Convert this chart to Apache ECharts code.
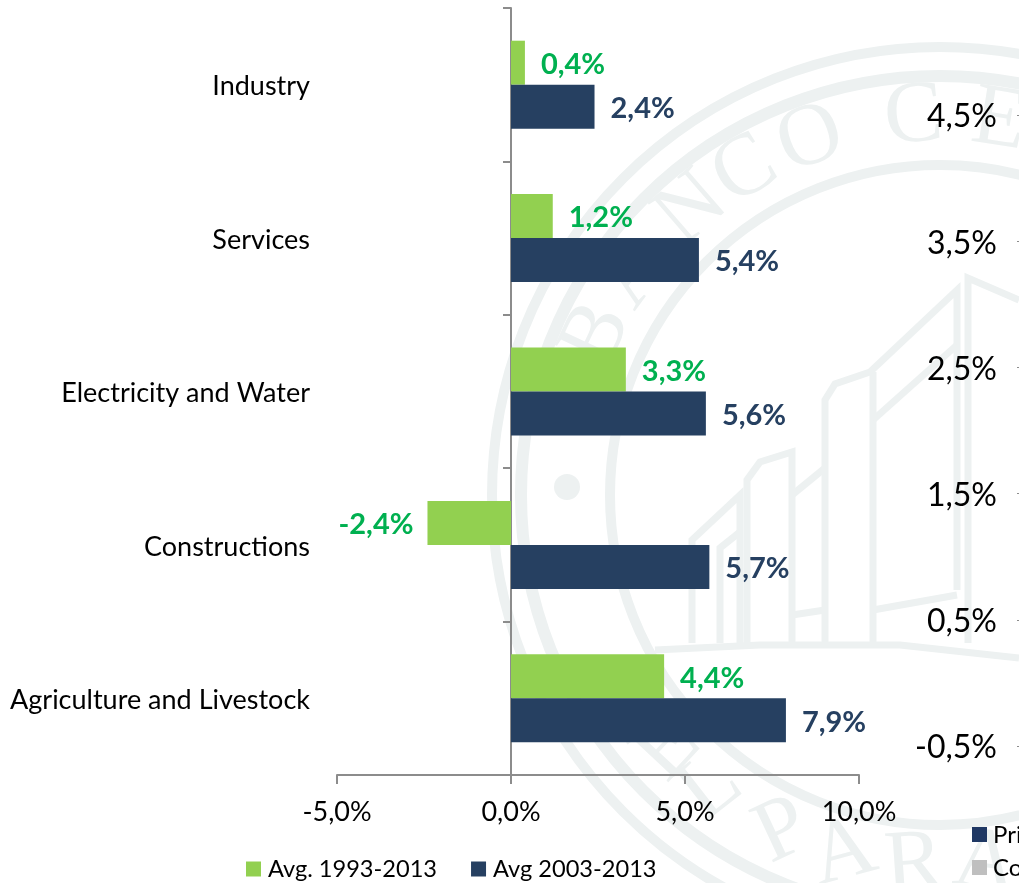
<!DOCTYPE html>
<html>
<head>
<meta charset="utf-8">
<style>
  html, body { margin: 0; padding: 0; background: #fff; overflow: hidden; }
  #main { width: 1019px; height: 883px; }
</style>
<script src="https://cdn.jsdelivr.net/npm/echarts@6/dist/echarts.min.js"></script>
</head>
<body>
<div id="main"></div>
<script>
const categories = ["Industry", "Services", "Electricity and Water", "Constructions", "Agriculture and Livestock"];
const avg1993 = [0.4, 1.2, 3.3, -2.4, 4.4];
const avg2003 = [2.4, 5.4, 5.6, 5.7, 7.9];
const rightTicks = ["-0,5%", "0,5%", "1,5%", "2,5%", "3,5%", "4,5%"];

const FONT = "Lato";
const MARK = "#edf1f1";
const pct = v => v.toFixed(1).replace(".", ",") + "%";

// seal behind the chart
const cx = 940, cy = 495;
const seal = [];
[[448, 10], [419, 12], [330, 10]].forEach(r => {
  seal.push({ type: "circle", z: -10, shape: { cx, cy, r: r[0] }, style: { fill: null, stroke: MARK, lineWidth: r[1] } });
});
seal.push({ type: "circle", z: -10, shape: { cx: 567, cy: 487, r: 13 }, style: { fill: MARK } });

// letters around the ring, angle in degrees from straight up
const topLetters = [["B", -65], ["A", -54], ["N", -41], ["C", -31], ["O", -20], ["C", -4], ["E", 9]];
const bottomLetters = [["E", 47], ["L", 38], ["P", 25], ["A", 15], ["R", 4], ["A", -7]];
topLetters.forEach(l => {
  const a = l[1] * Math.PI / 180;
  seal.push({ type: "text", z: -10, x: cx + 378 * Math.sin(a), y: cy - 378 * Math.cos(a), rotation: -a,
    style: { text: l[0], font: "88px 'Liberation Serif'", fill: MARK, align: "center", verticalAlign: "middle" } });
});
bottomLetters.forEach(l => {
  const a = l[1] * Math.PI / 180;
  seal.push({ type: "text", z: -10, x: cx - 372 * Math.sin(a), y: cy + 372 * Math.cos(a), rotation: a,
    style: { text: l[0], font: "88px 'Liberation Serif'", fill: MARK, align: "center", verticalAlign: "middle" } });
});

// building outlines
const building = [
  [[692, 643], [692, 540], [740, 495], [740, 643]],
  [[720, 643], [720, 548], [740, 532]],
  [[747, 643], [747, 480], [760, 462], [792, 452], [792, 643]],
  [[792, 495], [825, 468]],
  [[825, 643], [825, 400], [835, 384], [870, 372], [957, 290], [957, 590]],
  [[873, 643], [873, 372]],
  [[873, 610], [957, 595]],
  [[873, 420], [957, 345]],
  [[792, 615], [825, 610]],
  [[968, 643], [968, 278], [1019, 300]],
  [[655, 650], [760, 645], [900, 645], [1019, 658]]
];
building.forEach(p => {
  seal.push({ type: "polyline", z: -10, shape: { points: p }, style: { fill: null, stroke: MARK, lineWidth: 7 } });
});

// the other chart's legend, cut off by the page edge
const sideLegend = [
  { type: "rect", shape: { x: 972, y: 827, width: 15, height: 15 }, style: { fill: "#1f3864" } },
  { type: "rect", shape: { x: 972, y: 860, width: 15, height: 15 }, style: { fill: "#bfbfbf" } },
  { type: "text", x: 993, y: 835, style: { text: "Pri", font: "24px " + FONT, fill: "#000", verticalAlign: "middle" } },
  { type: "text", x: 993, y: 868, style: { text: "Co", font: "24px " + FONT, fill: "#000", verticalAlign: "middle" } }
];

const barData = (values, color) => values.map(v => ({
  value: v,
  label: { position: v < 0 ? "left" : "right", color: color }
}));

const myChart = echarts.init(document.getElementById("main"));
myChart.setOption({
  animation: false,
  backgroundColor: "#fff",
  textStyle: { fontFamily: FONT },
  graphic: { elements: seal.concat(sideLegend) },
  legend: {
    left: 241, top: 852, itemWidth: 15, itemHeight: 15, itemGap: 34,
    icon: "rect",
    textStyle: { fontFamily: FONT, fontSize: 23.6, color: "#000", padding: [0, 0, 0, 2] },
    data: ["Avg. 1993-2013", "Avg 2003-2013"]
  },
  grid: [
    { left: 337, width: 522, top: 8, height: 767, outerBoundsMode: "none" },
    { left: 1019, width: 1, top: 115, height: 631, outerBoundsMode: "none" }
  ],
  xAxis: [
    {
      type: "value", min: -5, max: 10, interval: 5, gridIndex: 0,
      splitLine: { show: false },
      axisLine: { show: true, lineStyle: { color: "#8c8c8c", width: 2 } },
      axisTick: { show: true, length: 9, lineStyle: { color: "#8c8c8c", width: 2 } },
      axisLabel: { formatter: pct, fontSize: 27, color: "#000", margin: 24, fontFamily: FONT }
    },
    { type: "value", gridIndex: 1, show: false }
  ],
  yAxis: [
    {
      type: "category", data: categories, inverse: true, gridIndex: 0,
      axisLine: { onZero: true, lineStyle: { color: "#8c8c8c", width: 2 } },
      axisTick: { show: true, length: 8, lineStyle: { color: "#8c8c8c", width: 2 } },
      axisLabel: { fontSize: 27, color: "#000", margin: 27, verticalAlign: "top", lineHeight: 4, fontFamily: FONT }
    },
    {
      type: "category", data: rightTicks, boundaryGap: false, gridIndex: 1,
      axisLine: { show: false },
      axisTick: { show: true, length: 2, lineStyle: { color: "#8c8c8c", width: 1 } },
      axisLabel: { fontSize: 32, color: "#000", margin: 22, verticalAlign: "top", lineHeight: 4, fontFamily: FONT }
    }
  ],
  series: [
    {
      name: "Avg. 1993-2013", type: "bar", barWidth: 44, barGap: 0, z: 3,
      data: barData(avg1993, "#00b050"),
      itemStyle: { color: "#92d050" },
      label: { show: true, distance: 15, offset: [1, 2], fontSize: 29, fontWeight: "bold", fontFamily: FONT, formatter: p => pct(p.value) }
    },
    {
      name: "Avg 2003-2013", type: "bar", barWidth: 44, barGap: 0, z: 3,
      data: barData(avg2003, "#264061"),
      itemStyle: { color: "#264061" },
      label: { show: true, distance: 15, offset: [1, 2], fontSize: 29, fontWeight: "bold", fontFamily: FONT, formatter: p => pct(p.value) }
    }
  ]
});
</script>
</body>
</html>
